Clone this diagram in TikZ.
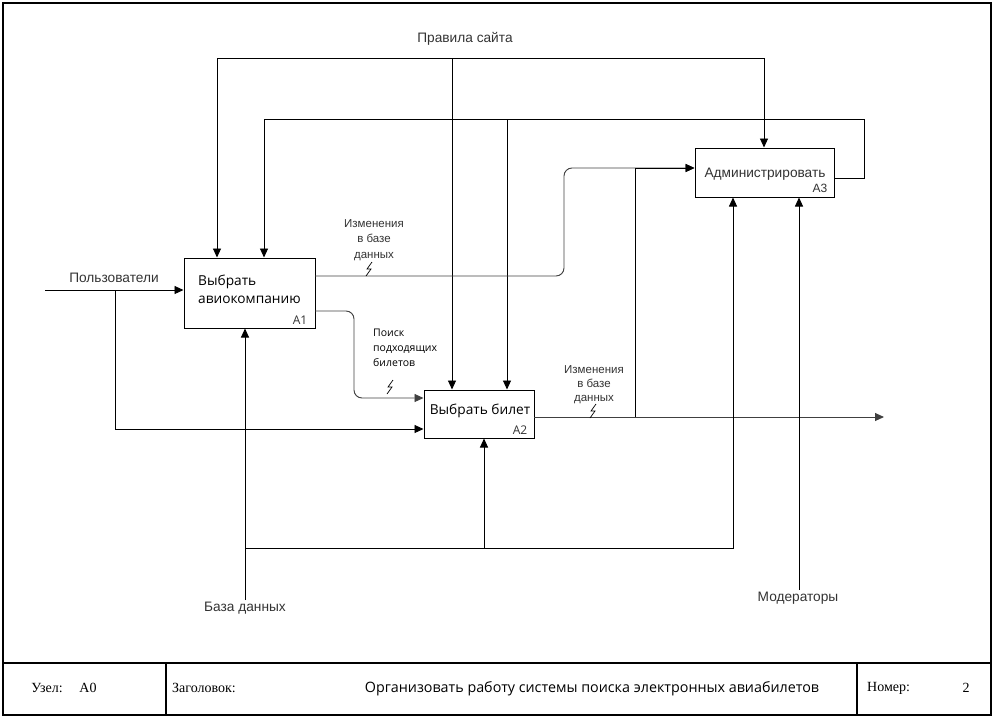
\documentclass[tikz,border=0pt]{standalone}
\usepackage{fontspec}
\setmainfont{Liberation Sans}
\newfontfamily\boxfont{Open Sans}
\newfontfamily\formfont{Liberation Serif}
\usetikzlibrary{arrows.meta}
\definecolor{labeltext}{HTML}{333333}
\definecolor{outline}{HTML}{404040}
\begin{document}
\begin{tikzpicture}[x=1pt,y=-1pt,
  flow/.style={line width=0.95pt, draw=black},
  outflow/.style={line width=0.95pt, draw=outline},
  tip/.style={-{Triangle[length=9pt,width=8pt]}},
  func/.style={draw=black, line width=1pt, inner sep=0pt, fill=white},
  lbl/.style={inner sep=0pt, text=labeltext, font=\fontsize{13.7}{16}\selectfont},
  small/.style={inner sep=0pt, text=labeltext, align=center, font=\fontsize{11.5}{15.5}\selectfont},
  boxtext/.style={inner sep=0pt, font=\boxfont\fontsize{13.7}{18.5}\selectfont},
  boxnum/.style={inner sep=0pt, text=labeltext, font=\boxfont\fontsize{12}{14}\selectfont},
  formtext/.style={inner sep=0pt, font=\formfont\fontsize{14}{16}\selectfont},
  zap/.pic={\draw[line width=0.7pt, draw=black] (3,-7) -- (-2,0) -- (2,0) -- (-3,7);}
]
\useasboundingbox (0,0) rectangle (995,718);

% sheet frame and form block
\draw[line width=1.2pt] (3,3) rectangle (991,715);
\draw[line width=1.2pt] (3,663) -- (991,663);
\draw[line width=1.2pt] (166,663) -- (166,715);
\draw[line width=1.2pt] (857,663) -- (857,715);
\node[formtext] (nodeLbl) at (47,688) {Узел:};
\node[formtext] (nodeVal) at (88,688) {A0};
\node[formtext, anchor=west] (titleLbl) at (172,688) {Заголовок:};
\node[inner sep=0pt, font=\boxfont\fontsize{14.3}{16}\selectfont] (titleVal) at (592,689) {Организовать работу системы поиска электронных авиабилетов};
\node[formtext, anchor=west] (numLbl) at (867,688) {Номер:};
\node[formtext] (numVal) at (966,688) {2};

% function boxes
\node[func, minimum width=131pt, minimum height=70pt] (a1) at (249.5,293) {};
\node[func, minimum width=110pt, minimum height=48pt] (a2) at (479,414) {};
\node[func, minimum width=139pt, minimum height=49pt] (a3) at (764.5,172.5) {};

\node[boxtext, anchor=west] (a1t1) at (198,282) {Выбрать};
\node[boxtext, anchor=west] (a1t2) at (198,300) {авиокомпанию};
\node[boxnum] (a1n) at (300,320) {A1};
\node[boxtext] (a2t) at (480,411) {Выбрать билет};
\node[boxnum] (a2n) at (520,430) {A2};
\node[lbl] (a3t) at (765,174) {Администрировать};
\node[lbl, font=\fontsize{12}{14}\selectfont] (a3n) at (820,188) {A3};

% controls: site rules
\node[lbl] (rules) at (465,39) {Правила сайта};
\coordinate (rL) at (217,58);
\coordinate (rM) at (452,58);
\coordinate (rR) at (764,58);
\draw[flow] (rL) -- (rR);
\draw[flow, tip] (rL) -- (rL |- a1.north);
\draw[flow, tip] (rM) -- (rM |- a2.north);
\draw[flow, tip] (rR) -- (rR |- a3.north);

% feedback from A3 as control of A1 and A2
\coordinate (fb0) at (834,178);
\coordinate (fb1) at (864,178);
\coordinate (fb2) at (864,119);
\coordinate (fb3) at (264,119);
\coordinate (fbM) at (507,119);
\draw[flow] (fb0) -- (fb1) -- (fb2) -- (fb3);
\draw[flow, tip] (fb3) -- (fb3 |- a1.north);
\draw[flow, tip] (fbM) -- (fbM |- a2.north);

% input: users
\node[lbl] (users) at (114,278) {Пользователи};
\coordinate (u0) at (45,290);
\coordinate (uB) at (115,290);
\coordinate (uC) at (115,429);
\draw[flow, tip] (u0) -- (u0 -| a1.west);
\draw[flow, tip] (uB) -- (uC) -- (uC -| a2.west);

% A1 output: database changes to A3
\coordinate (o1a) at (315,276);
\coordinate (o1b) at (564,276);
\coordinate (o1c) at (564,168);
\draw[outflow, tip, rounded corners=8pt] (o1a) -- (o1b) -- (o1c) -- (o1c -| a3.west);
\node[small] (chg1) at (374,240) {Изменения\\в базе\\данных};
\pic at (369,269) {zap};

% A1 output: matching tickets to A2
\coordinate (o2a) at (315,311);
\coordinate (o2b) at (354,311);
\coordinate (o2c) at (354,398);
\draw[outflow, tip, rounded corners=8pt] (o2a) -- (o2b) -- (o2c) -- (o2c -| a2.west);
\node[inner sep=0pt, align=left, anchor=north west, font=\boxfont\fontsize{10.5}{14.7}\selectfont] (search) at (373,329) {Поиск\\подходящих\\билетов};
\pic at (390,387) {zap};

% A2 output
\coordinate (o3a) at (534,417);
\coordinate (o3b) at (884,417);
\coordinate (o3j) at (635,417);
\draw[outflow, tip] (o3a) -- (o3b);
\draw[flow, tip] (o3j) -- (635,168) -- (635,168 -| a3.west);
\node[small, font=\fontsize{11.5}{14}\selectfont] (chg2) at (594,385) {Изменения\\в базе\\данных};
\pic at (593,411) {zap};

% mechanisms: database
\node[lbl] (db) at (245,608) {База данных};
\coordinate (d0) at (245,600);
\coordinate (dJ) at (245,548);
\coordinate (dM) at (484,548);
\coordinate (dR) at (733,548);
\draw[flow, tip] (d0) -- (d0 |- a1.south);
\draw[flow, tip] (dJ) -- (dR) -- (dR |- a3.south);
\draw[flow, tip] (dM) -- (dM |- a2.south);

% mechanisms: moderators
\node[lbl] (mods) at (798,598) {Модераторы};
\coordinate (m0) at (799,590);
\draw[flow, tip] (m0) -- (m0 |- a3.south);
\end{tikzpicture}
\end{document}
